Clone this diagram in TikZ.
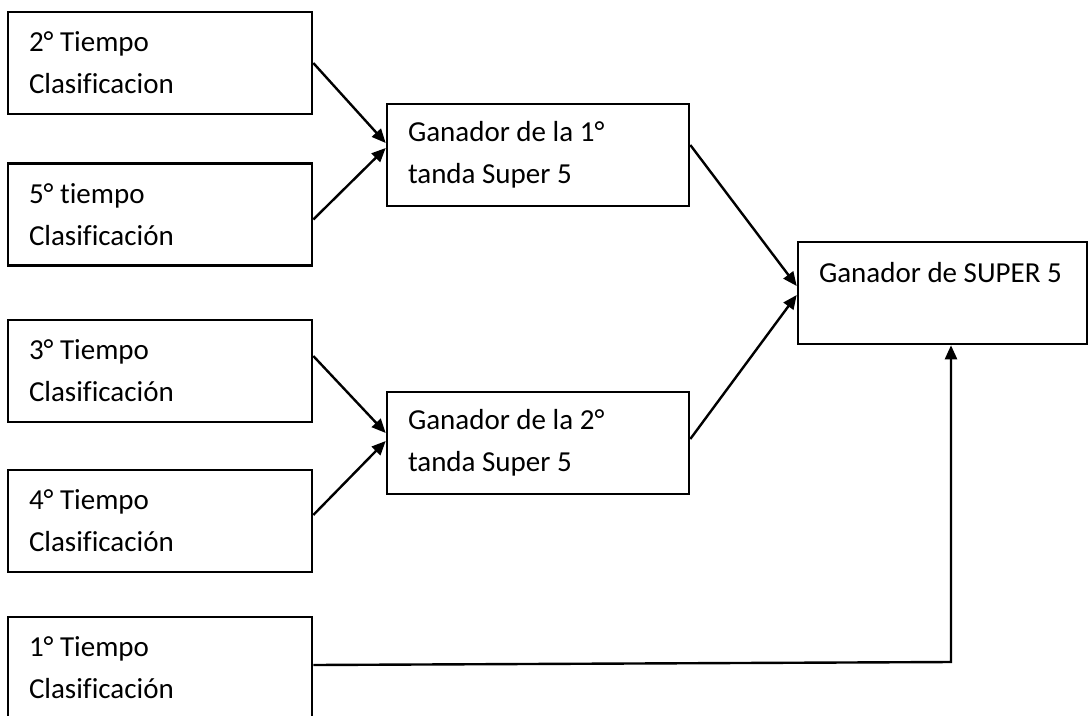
\documentclass[tikz,border=0pt]{standalone}
\usepackage{fontspec}
\setmainfont{Carlito}[Ligatures=NoCommon]
\usetikzlibrary{arrows.meta}
\begin{document}
\begin{tikzpicture}[x=1pt,y=-1pt,
  box/.style={draw,line width=2.6pt,rectangle,minimum height=102pt,inner xsep=21pt,inner ysep=0pt,align=flush left,font=\fontsize{29}{42}\selectfont,anchor=center},
  sbox/.style={box,text width=262pt},
  mbox/.style={box,text width=260pt},
  fbox/.style={box,text width=247pt},
  conn/.style={line width=2.4pt,-{Triangle[length=14pt,width=12pt]}}]
\useasboundingbox (0,0) rectangle (1089,715);
\fill[white] (0,0) rectangle (1089,715);
\node[sbox] (A) at (160,63) {2° Tiempo\\Clasificacion};
\node[sbox] (B) at (160,214.5) {5° tiempo\\Clasificación};
\node[sbox] (C) at (160,371) {3° Tiempo\\Clasificación};
\node[sbox] (D) at (160,521) {4° Tiempo\\Clasificación};
\node[sbox] (E) at (160,668) {1° Tiempo\\Clasificación};
\node[mbox] (M1) at (538,155) {Ganador de la 1°\\tanda Super 5};
\node[mbox] (M2) at (538,443) {Ganador de la 2°\\tanda Super 5};
\node[fbox] (F) at (942.5,293) {Ganador de SUPER 5\\\mbox{}};
\coordinate (k) at (951,662);
\draw[conn] (A.east) -- ([yshift=12pt]M1.west);
\draw[conn] ([yshift=-5pt]B.east) -- ([yshift=7pt]M1.west);
\draw[conn] ([yshift=15pt]C.east) -- ([yshift=10pt]M2.west);
\draw[conn] ([yshift=6pt]D.east) -- ([yshift=2pt]M2.west);
\draw[conn] ([yshift=10pt]M1.east) -- ([yshift=7pt]F.west);
\draw[conn] ([yshift=4pt]M2.east) -- ([yshift=-2pt]F.west);
\draw[conn] ([yshift=3pt]E.east) -- (k) -- (k |- F.south);
\end{tikzpicture}
\end{document}
